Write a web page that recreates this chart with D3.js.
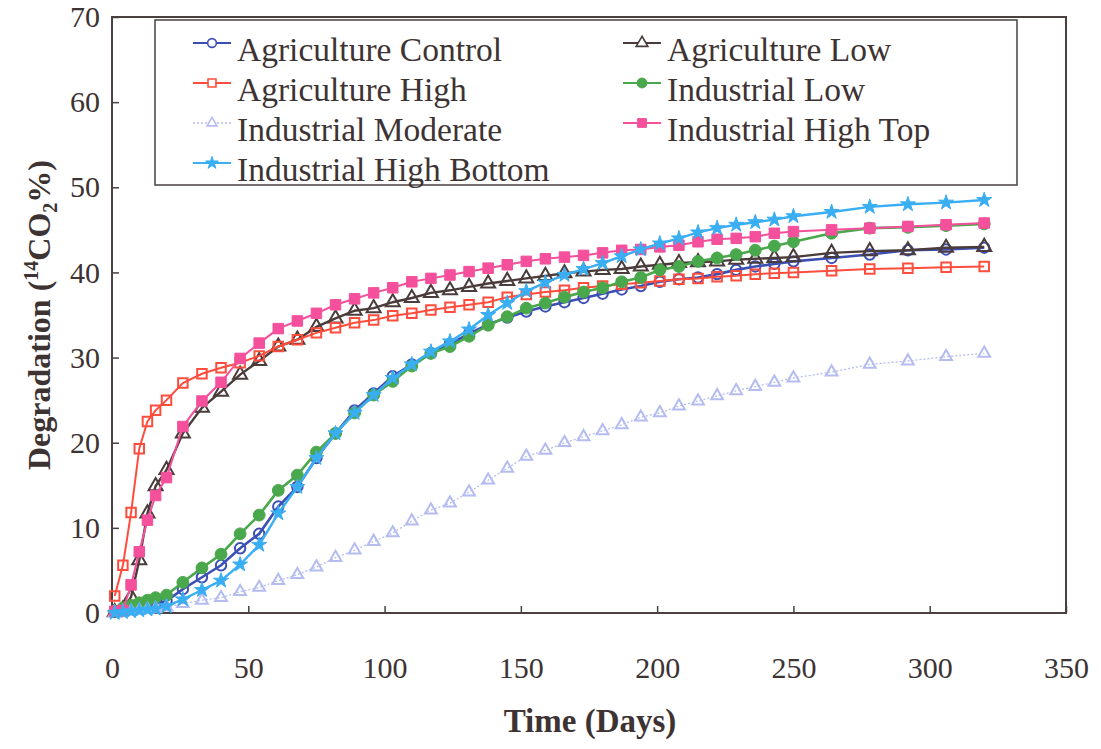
<!DOCTYPE html>
<html>
<head>
<meta charset="utf-8">
<script src="https://cdn.jsdelivr.net/npm/d3@7"></script>
<style>
  html, body { margin: 0; padding: 0; background: #fff; }
  svg { display: block; }
  text { font-family: "Liberation Serif", "Times New Roman", serif; fill: #3d3333; }
</style>
</head>
<body>
<svg id="chart" width="1101" height="749"></svg>
<script>
"use strict";

// sampling days
const days = [1, 4, 7, 10, 13, 16, 20, 26, 33, 40, 47, 54, 61, 68, 75, 82, 89, 96, 103, 110,
    117, 124, 131, 138, 145, 152, 159, 166, 173, 180, 187, 194, 201, 208, 215, 222, 229, 236,
    243, 250, 264, 278, 292, 306, 320];

const agricultureControl = [0.1, 0.3, 0.5, 0.7, 0.9, 1.1, 1.4, 2.8,
    4.2, 5.6, 7.6, 9.3, 12.5, 14.8, 18.2, 21.1, 23.8, 25.8, 27.8, 29.2, 30.5, 31.6, 32.8, 33.9,
    34.7, 35.4, 36.0, 36.5, 37.0, 37.5, 38.0, 38.4, 38.9, 39.2, 39.4, 39.8, 40.3, 40.7, 41.0, 41.3,
    41.7, 42.1, 42.6, 42.7, 42.9];
const agricultureLow = [0.1, 0.4, 1.9, 6.2, 11.7, 14.9, 16.8, 21.1,
    24.1, 26.0, 28.0, 29.6, 31.3, 32.1, 33.6, 34.6, 35.5, 35.8, 36.5, 37.0, 37.6, 37.9, 38.3, 38.7,
    39.0, 39.3, 39.6, 39.9, 40.1, 40.3, 40.4, 40.7, 40.9, 41.1, 41.2, 41.3, 41.5, 41.6, 41.7, 41.8,
    42.3, 42.5, 42.6, 42.9, 43.0];
const agricultureHigh = [2.0, 5.6, 11.8, 19.3, 22.5, 23.8, 25.0, 27.0,
    28.1, 28.8, 29.4, 30.2, 31.3, 32.1, 32.9, 33.5, 34.1, 34.4, 34.9, 35.2, 35.6, 35.9, 36.2, 36.5,
    37.1, 37.4, 37.7, 37.9, 38.2, 38.4, 38.6, 38.8, 39.0, 39.2, 39.3, 39.5, 39.6, 39.8, 39.9, 40.0,
    40.2, 40.4, 40.5, 40.6, 40.7];
const industrialLow = [0.2, 0.6, 0.9, 1.2, 1.5, 1.8, 2.1, 3.6,
    5.3, 6.9, 9.3, 11.5, 14.4, 16.2, 18.9, 21.1, 23.5, 25.6, 27.2, 29.0, 30.5, 31.3, 32.5, 33.8,
    34.8, 35.8, 36.4, 37.1, 37.7, 38.2, 38.9, 39.4, 40.3, 40.7, 41.3, 41.7, 42.1, 42.6, 43.1, 43.6,
    44.6, 45.2, 45.3, 45.5, 45.7];
const industrialModerate = [0.05, 0.1, 0.2, 0.3, 0.4, 0.5, 0.7, 1.1,
    1.5, 1.8, 2.5, 3.0, 3.8, 4.5, 5.4, 6.5, 7.4, 8.4, 9.4, 10.8, 12.1, 12.9, 14.2, 15.6,
    17.0, 18.4, 19.1, 20.0, 20.7, 21.4, 22.1, 23.0, 23.5, 24.3, 24.9, 25.5, 26.1, 26.6, 27.1, 27.6,
    28.3, 29.2, 29.6, 30.1, 30.5];
const industrialHighTop = [0.2, 0.3, 3.3, 7.2, 10.9, 13.8, 15.9, 21.9,
    24.9, 27.1, 29.9, 31.7, 33.4, 34.3, 35.2, 36.2, 36.9, 37.6, 38.2, 38.9, 39.3, 39.7, 40.1, 40.5,
    40.9, 41.3, 41.6, 41.8, 42.0, 42.3, 42.6, 42.7, 43.0, 43.2, 43.6, 43.9, 44.0, 44.2, 44.6, 44.8,
    45.0, 45.2, 45.4, 45.6, 45.8];
const industrialHighBottom = [0.0, 0.1, 0.2, 0.3, 0.4, 0.5, 0.8, 1.6,
    2.7, 3.8, 5.7, 8.0, 11.7, 14.8, 18.2, 21.1, 23.5, 25.6, 27.6, 29.2, 30.7, 31.9, 33.3, 35.0,
    36.4, 37.8, 38.8, 39.7, 40.4, 41.1, 41.9, 42.7, 43.4, 44.0, 44.7, 45.2, 45.6, 45.9, 46.2, 46.6,
    47.1, 47.7, 48.0, 48.2, 48.5];

const seriesNames = ["Agriculture Control", "Agriculture Low", "Agriculture High", "Industrial Low",
    "Industrial Moderate", "Industrial High Top", "Industrial High Bottom"];
const seriesValues = [agricultureControl, agricultureLow, agricultureHigh, industrialLow,
    industrialModerate, industrialHighTop, industrialHighBottom];

const xTicks = [0, 50, 100, 150, 200, 250, 300, 350];
const yTicks = [0, 10, 20, 30, 40, 50, 60, 70];

// look of each series
const styles = [
    {color: "#3c4fb4", symbol: d3.symbolCircle, size: 85, filled: false, width: 2.6},
    {color: "#4a3c3a", symbol: d3.symbolTriangle, size: 85, filled: false, width: 2.4},
    {color: "#ff4d3d", symbol: d3.symbolSquare, size: 90, filled: false, width: 2},
    {color: "#4aa84c", symbol: d3.symbolCircle, size: 110, filled: true, width: 2.6},
    {color: "#b4bcf0", symbol: d3.symbolTriangle, size: 60, filled: false, width: 1.3, dash: "2,2"},
    {color: "#f4509c", symbol: d3.symbolSquare, size: 110, filled: true, width: 2},
    {color: "#3aaef2", symbol: d3.symbolStar, size: 70, filled: true, width: 2.4}
];

const svg = d3.select("#chart");
const margin = {left: 112, right: 35, top: 17, bottom: 136};
const width = 1101, height = 749;

const x = d3.scaleLinear().domain([0, 350]).range([margin.left, width - margin.right]);
const y = d3.scaleLinear().domain([0, 70]).range([height - margin.bottom, margin.top]);

const frameColor = "#4a4040";

// frame
svg.append("rect")
    .attr("x", x(0)).attr("y", y(70))
    .attr("width", x(350) - x(0)).attr("height", y(0) - y(70))
    .attr("fill", "none").attr("stroke", frameColor).attr("stroke-width", 2);

// axes
const xAxis = svg.append("g")
    .attr("transform", `translate(0,${y(0)})`)
    .call(d3.axisBottom(x).tickValues(xTicks).tickSize(-7).tickPadding(44));
const yAxis = svg.append("g")
    .attr("transform", `translate(${x(0)},0)`)
    .call(d3.axisLeft(y).tickValues(yTicks).tickSize(-7).tickPadding(12));

[xAxis, yAxis].forEach(g => {
    g.select(".domain").remove();
    g.selectAll(".tick line").attr("stroke", frameColor).attr("stroke-width", 1.5);
    g.selectAll(".tick text")
        .attr("font-family", "Liberation Serif, serif")
        .attr("font-size", 30)
        .attr("fill", "#3d3333");
});

// axis titles
svg.append("text")
    .attr("x", (x(0) + x(350)) / 2 + 1).attr("y", 732)
    .attr("text-anchor", "middle")
    .attr("font-size", 33).attr("font-weight", "bold")
    .text("Time (Days)");

const yTitle = svg.append("text")
    .attr("transform", `translate(50,${(y(0) + y(70)) / 2}) rotate(-90)`)
    .attr("text-anchor", "middle")
    .attr("font-size", 32).attr("font-weight", "bold");
yTitle.append("tspan").text("Degradation (");
yTitle.append("tspan").attr("font-size", 20).attr("dy", -12).text("14");
yTitle.append("tspan").attr("dy", 12).text("CO");
yTitle.append("tspan").attr("font-size", 20).attr("dy", 7).text("2");
yTitle.append("tspan").attr("dy", -7).text("%)");

// lines and markers
const line = d3.line().x(d => x(d[0])).y(d => y(d[1]));

seriesValues.forEach((vals, i) => {
    const st = styles[i];
    const pts = days.map((d, j) => [d, vals[j]]);
    const g = svg.append("g");
    g.append("path")
        .datum(pts)
        .attr("d", line)
        .attr("fill", "none")
        .attr("stroke", st.color)
        .attr("stroke-width", st.width)
        .attr("stroke-dasharray", st.dash || null);
    g.selectAll("path.m")
        .data(pts)
        .enter().append("path")
        .attr("class", "m")
        .attr("transform", d => `translate(${x(d[0])},${y(d[1])})`)
        .attr("d", d3.symbol().type(st.symbol).size(st.size))
        .attr("fill", st.filled ? st.color : "#fff")
        .attr("fill-opacity", st.filled ? 1 : 0)
        .attr("stroke", st.color)
        .attr("stroke-width", st.filled ? 1 : 2);
});

// legend
const legend = svg.append("g");
legend.append("rect")
    .attr("x", 155).attr("y", 20).attr("width", 862).attr("height", 165)
    .attr("fill", "#fff").attr("stroke", frameColor).attr("stroke-width", 1.5);

seriesNames.forEach((name, i) => {
    const st = styles[i];
    const col = i % 2, row = Math.floor(i / 2);
    const lx = col === 0 ? 193 : 623;
    const ly = 43 + row * 40;
    const item = legend.append("g").attr("transform", `translate(${lx},${ly})`);
    item.append("line")
        .attr("x1", 0).attr("x2", 38)
        .attr("stroke", st.color).attr("stroke-width", Math.min(st.width, 2))
        .attr("stroke-dasharray", st.dash || null);
    item.append("path")
        .attr("transform", "translate(19,0)")
        .attr("d", d3.symbol().type(st.symbol).size(st.size * 0.7))
        .attr("fill", st.filled ? st.color : "#fff")
        .attr("stroke", st.color)
        .attr("stroke-width", st.filled ? 1 : 1.6);
    item.append("text")
        .attr("x", 44).attr("y", 18)
        .attr("font-size", 33.5)
        .text(name);
});
</script>
</body>
</html>
